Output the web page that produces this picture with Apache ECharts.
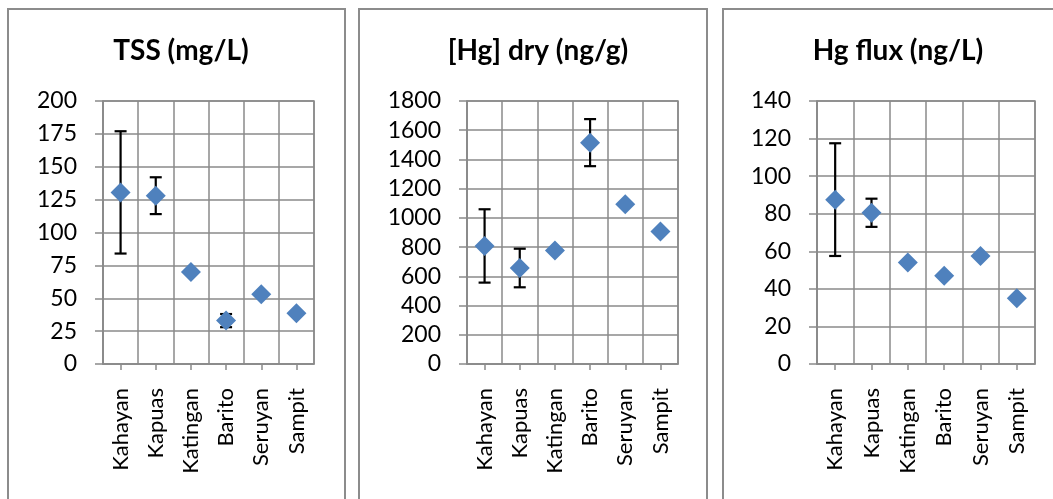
<!DOCTYPE html>
<html>
<head>
<meta charset="utf-8">
<script src="https://cdn.jsdelivr.net/npm/echarts@6/dist/echarts.min.js"></script>
<style>
html,body{margin:0;padding:0;background:#fff;}
#c{width:1053px;height:499px;}
</style>
</head>
<body>
<div id="c"></div>
<script>
const rivers = ['Kahayan', 'Kapuas', 'Katingan', 'Barito', 'Seruyan', 'Sampit'];
const titles = ['TSS (mg/L)', '[Hg] dry (ng/g)', 'Hg flux (ng/L)'];

const tssMean = [130.5, 128, 70, 33, 53, 38.5];
const tssErr  = [46.5, 14, 0, 5, 0, 0];

const hgMean = [808, 657, 776, 1515, 1093, 906];
const hgErr  = [251, 132, 0, 161, 0, 0];

const fluxMean = [87.5, 80.5, 54, 47, 57.5, 35];
const fluxErr  = [30, 7.5, 0, 0, 0, 0];

const yMax = [200, 1800, 140];
const yStep = [25, 200, 20];

const means = [tssMean, hgMean, fluxMean];
const errs = [tssErr, hgErr, fluxErr];

const FONT = 'Lato, "Liberation Sans", sans-serif';
const GRID_C = '#8a8a8a';

const grids = [
  {left: 103, top: 101, width: 211, height: 263},
  {left: 467, top: 101, width: 211, height: 263},
  {left: 817, top: 101, width: 218, height: 263}
];
const titleX = [176, 533, 893];
const panels = [[8, 9, 337], [359, 9, 348], [723, 9, 360]];

const option = {
  animation: false,
  backgroundColor: '#fff',
  title: titles.map((t, i) => ({
    text: t,
    left: titleX[i],
    textAlign: 'center',
    top: 29,
    textStyle: {fontFamily: FONT, fontSize: 28, fontWeight: 'bold', color: '#000', lineHeight: 34}
  })),
  graphic: panels.map(p => ({
    type: 'rect',
    shape: {x: p[0], y: p[1], width: p[2], height: 520},
    style: {fill: 'none', stroke: '#8c8c8c', lineWidth: 2},
    silent: true
  })),
  grid: grids.map(g => Object.assign({show: true, borderColor: GRID_C, borderWidth: 1.5, backgroundColor: 'transparent'}, g)),
  xAxis: grids.map((g, i) => ({
    type: 'category',
    gridIndex: i,
    data: rivers,
    boundaryGap: true,
    axisLine: {show: true, lineStyle: {color: GRID_C, width: 1.5}},
    axisTick: {show: true, alignWithLabel: true, length: 6, lineStyle: {color: GRID_C, width: 1.5}},
    axisLabel: {rotate: 90, margin: 24, fontSize: 22, color: '#000', fontFamily: FONT, interval: 0},
    splitLine: {show: true, interval: 0, lineStyle: {color: GRID_C, width: 1.5}}
  })),
  yAxis: grids.map((g, i) => ({
    type: 'value',
    gridIndex: i,
    min: 0,
    max: yMax[i],
    interval: yStep[i],
    axisLine: {show: true, lineStyle: {color: GRID_C, width: 1.5}},
    axisTick: {show: true, length: 8, lineStyle: {color: GRID_C, width: 1.5}},
    axisLabel: {margin: 26, fontSize: 23, color: '#000', fontFamily: FONT, formatter: v => String(v)},
    splitLine: {show: true, lineStyle: {color: GRID_C, width: 1.5}}
  })),
  series: []
};

for (let i = 0; i < 3; i++) {
  const errData = [];
  means[i].forEach((m, k) => {
    if (errs[i][k] > 0) errData.push([k, m - errs[i][k], m + errs[i][k]]);
  });
  option.series.push({
    type: 'custom',
    xAxisIndex: i,
    yAxisIndex: i,
    z: 2,
    data: errData,
    renderItem: function (params, api) {
      const lo = api.coord([api.value(0), api.value(1)]);
      const hi = api.coord([api.value(0), api.value(2)]);
      const cw = 6;
      const st = {stroke: '#000', lineWidth: 2.2};
      return {
        type: 'group',
        children: [
          {type: 'line', shape: {x1: lo[0], y1: lo[1], x2: hi[0], y2: hi[1]}, style: st},
          {type: 'line', shape: {x1: hi[0] - cw, y1: hi[1], x2: hi[0] + cw, y2: hi[1]}, style: st},
          {type: 'line', shape: {x1: lo[0] - cw, y1: lo[1], x2: lo[0] + cw, y2: lo[1]}, style: st}
        ]
      };
    }
  });
  option.series.push({
    type: 'scatter',
    xAxisIndex: i,
    yAxisIndex: i,
    z: 3,
    symbol: 'diamond',
    symbolSize: 20,
    itemStyle: {color: '#4F81BD', opacity: 1},
    data: means[i]
  });
}

const chart = echarts.init(document.getElementById('c'), null, {renderer: 'canvas'});
chart.setOption(option);
</script>
</body>
</html>
